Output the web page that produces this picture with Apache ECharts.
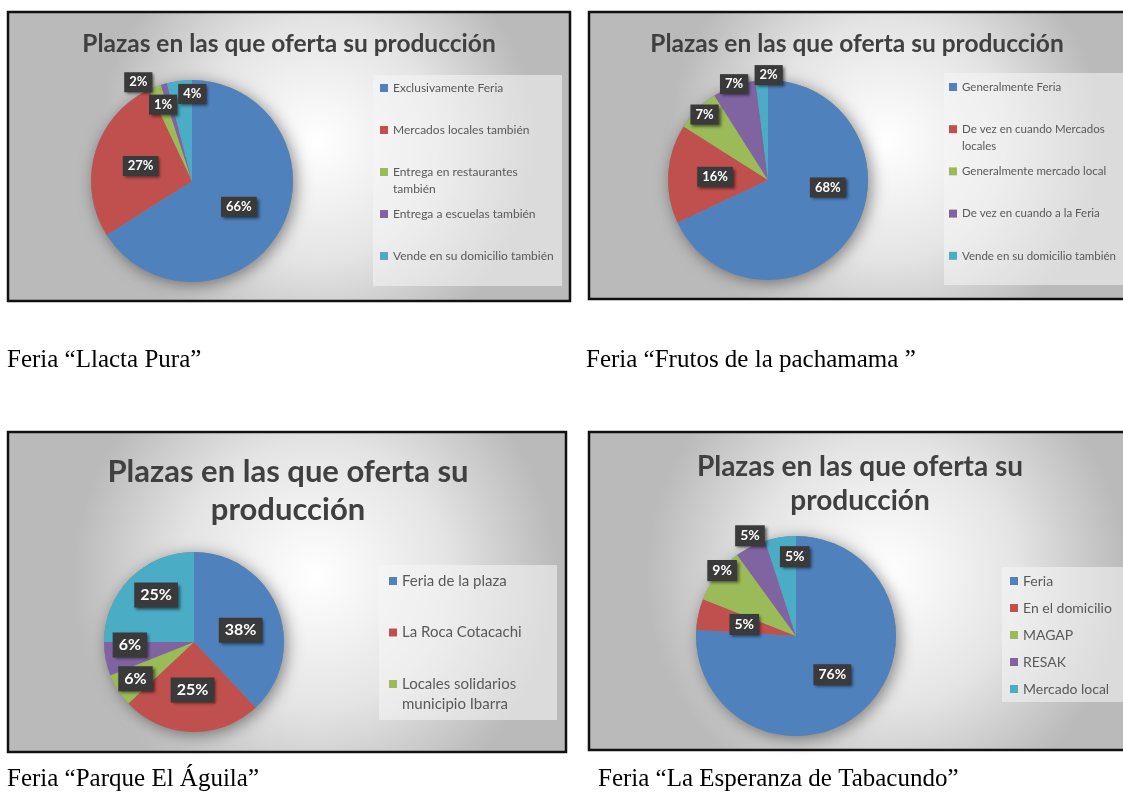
<!DOCTYPE html>
<html>
<head>
<meta charset="utf-8">
<script src="https://cdn.jsdelivr.net/npm/echarts@6/dist/echarts.min.js"></script>
<style>
html, body { margin: 0; padding: 0; background: #fff; }
#chart { width: 1123px; height: 801px; }
</style>
</head>
<body>
<div id="chart"></div>
<script>
// Feria "Llacta Pura"
const names1 = ['Exclusivamente Feria', 'Mercados locales también', 'Entrega en restaurantes también', 'Entrega a escuelas también', 'Vende en su domicilio también']
const vals1 = [66, 27, 2, 1, 4]
// Feria "Frutos de la pachamama"
const names2 = ['Generalmente Feria', 'De vez en cuando Mercados locales', 'Generalmente mercado local', 'De vez en cuando a la Feria', 'Vende en su domicilio también']
const vals2 = [68, 16, 7, 7, 2]
// Feria "Parque El Águila" (las dos últimas no salen en la leyenda)
const names3 = ['Feria de la plaza', 'La Roca Cotacachi', 'Locales solidarios municipio Ibarra', 'Categoría 4', 'Categoría 5']
const vals3 = [38, 25, 6, 6, 25]
const legend3 = ['Feria de la plaza', 'La Roca Cotacachi', 'Locales solidarios municipio Ibarra']
// Feria "La Esperanza de Tabacundo"
const names4 = ['Feria', 'En el domicilio', 'MAGAP', 'RESAK', 'Mercado local']
const vals4 = [76, 5, 9, 5, 5]

const chartTitle = 'Plazas en las que oferta su producción'
const captions = ['Feria “Llacta Pura”', 'Feria “Frutos de la pachamama ”', 'Feria “Parque El Águila”', 'Feria “La Esperanza de Tabacundo”']

const colors = ['#4f81bd', '#c0504d', '#9bbb59', '#8064a2', '#4bacc6']
const legendBreaks = {
  'Entrega en restaurantes también': 'Entrega en restaurantes\ntambién',
  'De vez en cuando Mercados locales': 'De vez en cuando Mercados\nlocales',
  'Locales solidarios municipio Ibarra': 'Locales solidarios\nmunicipio Ibarra'
}
const sansFont = 'Lato, "Open Sans", sans-serif'

let myChart = echarts.init(document.getElementById('chart'))

// fondo gris con degradado y borde negro de cada grafico
function panel(x, y, w, h) {
  return {
    type: 'rect', z: -10, silent: true,
    shape: { x: x, y: y, width: w, height: h },
    style: {
      fill: {
        type: 'radial', x: 0.55, y: 0.45, r: 0.75,
        colorStops: [{ offset: 0, color: '#ffffff' }, { offset: 0.55, color: '#e4e4e4' }, { offset: 1, color: '#bababa' }]
      },
      stroke: '#111', lineWidth: 2.5
    }
  }
}

// caja clara detras de la leyenda
function legendBox(x, y, w, h) {
  return {
    type: 'rect', z: -5, silent: true,
    shape: { x: x, y: y, width: w, height: h },
    style: { fill: 'rgba(245,245,245,0.55)' }
  }
}

function titleText(x, y, text, size, lh) {
  return {
    type: 'text', z: 10, silent: true, x: x, y: y,
    style: {
      text: text, x: 0, y: 0,
      align: 'center', verticalAlign: 'middle', textAlign: 'center', textVerticalAlign: 'middle',
      font: 'bold ' + size + 'px ' + sansFont, lineHeight: lh, fill: '#404040'
    }
  }
}

function caption(x, y, text) {
  return {
    type: 'text', z: 10, silent: true, x: x, y: y,
    style: {
      text: text, x: 0, y: 0,
      align: 'left', verticalAlign: 'middle', textAlign: 'left', textVerticalAlign: 'middle',
      font: '25px "Liberation Serif", serif', fill: '#000'
    }
  }
}

function pieShadow(center, radius) {
  return {
    type: 'pie', silent: true, z: 1, center: center, radius: radius,
    label: { show: false }, labelLine: { show: false },
    itemStyle: { color: '#8a8a8a', shadowBlur: 16, shadowColor: 'rgba(0,0,0,0.45)', shadowOffsetX: 3, shadowOffsetY: 3 },
    data: [{ value: 1, name: '' }]
  }
}

function pie(names, vals, center, radius, fontSize, pad, shifts) {
  return {
    type: 'pie', silent: true, z: 2,
    center: center, radius: radius,
    startAngle: 90, clockwise: true,
    data: names.map((n, i) => ({ name: n, value: vals[i], itemStyle: { color: colors[i] } })),
    label: {
      show: true, position: 'inside',
      formatter: p => Math.round(p.percent) + '%',
      color: '#fff', fontWeight: 'bold', fontSize: fontSize, fontFamily: sansFont,
      backgroundColor: '#3a3a3a', padding: pad,
      shadowBlur: 3, shadowColor: 'rgba(0,0,0,0.55)', shadowOffsetX: 2, shadowOffsetY: 2
    },
    labelLine: { show: false },
    labelLayout: p => ({ dx: shifts[p.dataIndex][0], dy: shifts[p.dataIndex][1] })
  }
}

// una leyenda por entrada, a paso fijo como en Excel; en las de dos lineas
// se antepone una linea vacia para que el cuadrito quede en la primera linea
function legendsFor(names, left, firstY, step, fontSize, lh) {
  return names.map((n, i) => {
    const wrapped = !!legendBreaks[n]
    const blockH = wrapped ? 3 * lh : lh
    return {
      data: [n], orient: 'vertical', left: left, top: firstY + i * step - blockH / 2,
      icon: 'rect', itemWidth: 8, itemHeight: 8, padding: 0,
      selectedMode: false,
      formatter: nm => legendBreaks[nm] ? '\n' + legendBreaks[nm] : nm,
      textStyle: { fontSize: fontSize, lineHeight: lh, color: '#595959', fontFamily: sansFont }
    }
  })
}

myChart.setOption({
  animation: false,
  legend: [].concat(
    legendsFor(names1, 380, 88, 42, 12, 17),
    legendsFor(names2, 949, 87, 42.2, 11.5, 17),
    legendsFor(legend3, 389, 581, 51.5, 15, 20),
    legendsFor(names4, 1010, 581, 27, 14, 17)
  ),
  graphic: [
    panel(8, 12, 562, 289),
    panel(589, 12, 540, 287),
    panel(8, 432, 558, 320),
    panel(589, 432, 540, 318),
    legendBox(373, 75, 189, 211),
    legendBox(944, 73, 181, 212),
    legendBox(379, 565, 178, 155),
    legendBox(1002, 567, 121, 135),
    titleText(289, 44, chartTitle, 24.5, 30),
    titleText(857, 44, chartTitle, 24.5, 30),
    titleText(288, 491, 'Plazas en las que oferta su\nproducción', 31, 38),
    titleText(860, 484, 'Plazas en las que oferta su\nproducción', 28, 34),
    caption(7, 360, captions[0]),
    caption(586, 360, captions[1]),
    caption(7, 779, captions[2]),
    caption(598, 779, captions[3])
  ],
  series: [
    pieShadow([192, 181], 101),
    pieShadow([768, 180], 100),
    pieShadow([194, 642], 90),
    pieShadow([796, 636], 100),
    pie(names1, vals1, [192, 181], 101, 13, [4, 5, 3, 5], [[0, 0], [0, 0], [-34, -49], [-14, -25], [7, -34]]),
    pie(names2, vals2, [768, 180], 100, 13, [4, 5, 3, 5], [[15, -21], [0, 0], [-26, -28], [-16, -46], [4, -52]]),
    pie(names3, vals3, [194, 642], 90, 16, [5, 6, 4, 6], [[2, 6], [0, 0], [-18, 11], [-17, -6], [-4, -13]]),
    pie(names4, vals4, [796, 636], 100, 14, [4, 5, 3, 5], [[0, 0], [0, 0], [-32, -33], [-22, -53], [7, -27]])
  ]
})
</script>
</body>
</html>
